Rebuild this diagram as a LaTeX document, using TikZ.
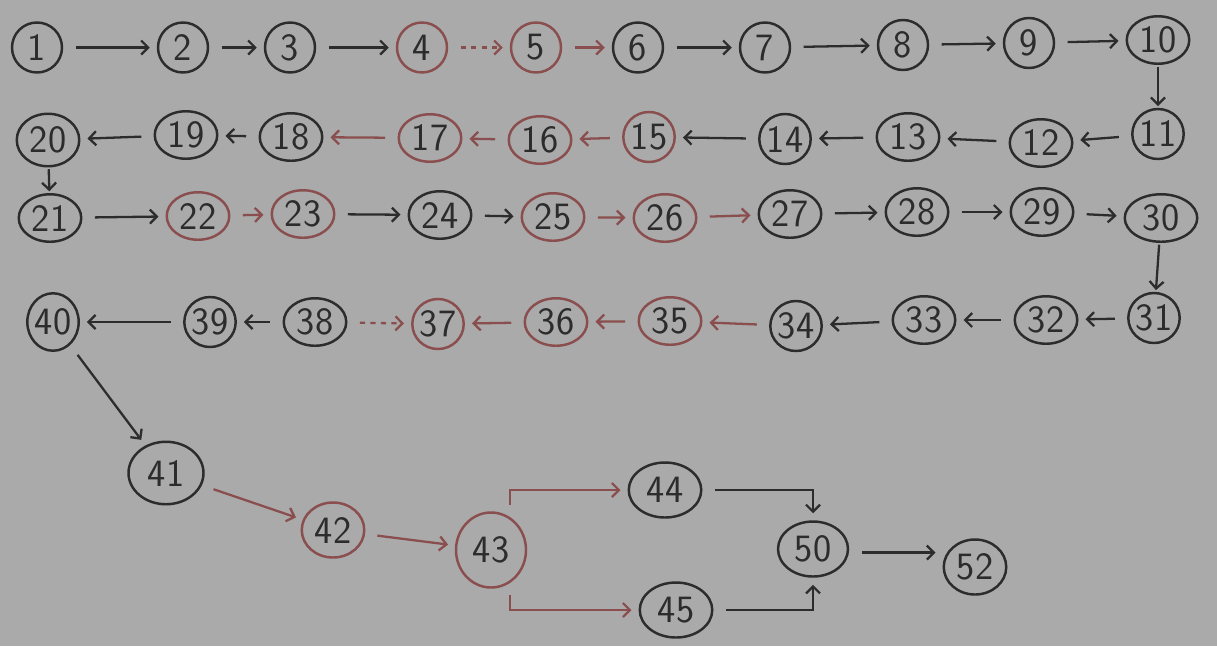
\documentclass[tikz,border=0pt]{standalone}
\usepackage{tikz}
\usetikzlibrary{shapes.geometric,arrows.meta,positioning}
\definecolor{paper}{RGB}{170,170,170}
\definecolor{ink}{RGB}{44,44,44}
\definecolor{redink}{RGB}{138,78,78}
\tikzset{
  %% Ellipse nodes
  tnode/.style={
    ellipse, draw=ink, line width=1.4pt,
    text=ink, inner sep=0pt,
    minimum width=1.25cm, minimum height=0.95cm,
    font=\sffamily\fontsize{22}{22}\selectfont},
  rnode/.style={tnode, draw=redink},
  onedig/.style={minimum width=1.0cm, minimum height=1.0cm},
  %% Arrows
  arr/.style={-{Straight Barb[length=4pt,width=8pt]}, line width=1.3pt, ink,
    shorten <=7pt, shorten >=4pt},
  varr/.style={arr, shorten <=1pt, shorten >=1pt},
  rarr/.style={arr, redink},
  darr/.style={rarr, dashed},
}
\begin{document}
\begin{tikzpicture}
  \fill[paper] (0,0) rectangle (24.34,-12.92);

  %% Row 1
  \node[tnode, onedig] (n1)  at (0.74,-0.95)  {1};
  \node[tnode, onedig] (n2)  at (3.66,-0.95)  {2};
  \node[tnode, onedig] (n3)  at (5.80,-0.95)  {3};
  \node[rnode, onedig] (n4)  at (8.44,-0.95)  {4};
  \node[rnode, onedig] (n5)  at (10.72,-0.95) {5};
  \node[tnode, onedig] (n6)  at (12.76,-0.95) {6};
  \node[tnode, onedig] (n7)  at (15.30,-0.95) {7};
  \node[tnode, onedig] (n8)  at (18.06,-0.90) {8};
  \node[tnode, onedig] (n9)  at (20.58,-0.86) {9};
  \node[tnode]         (n10) at (23.16,-0.80) {10};

  \draw[arr]  (n1) -- (n2);
  \draw[arr]  (n2) -- (n3);
  \draw[arr]  (n3) -- (n4);
  \draw[darr] (n4) -- (n5);
  \draw[rarr] (n5) -- (n6);
  \draw[arr]  (n6) -- (n7);
  \draw[arr]  (n7) -- (n8);
  \draw[arr]  (n8) -- (n9);
  \draw[arr]  (n9) -- (n10);

  %% Row 2
  \node[tnode, onedig] (n11) at (23.16,-2.68) {11};
  \node[tnode]         (n12) at (20.82,-2.86) {12};
  \node[tnode]         (n13) at (18.16,-2.74) {13};
  \node[tnode, onedig] (n14) at (15.70,-2.78) {14};
  \node[rnode, onedig] (n15) at (12.98,-2.74) {15};
  \node[rnode]         (n16) at (10.80,-2.80) {16};
  \node[rnode]         (n17) at (8.60,-2.76)  {17};
  \node[tnode]         (n18) at (5.82,-2.74)  {18};
  \node[tnode]         (n19) at (3.72,-2.70)  {19};
  \node[tnode, minimum height=1.05cm] (n20) at (0.96,-2.80) {20};

  \draw[varr] (n10) -- (n11);
  \draw[arr]  (n11) -- (n12);
  \draw[arr]  (n12) -- (n13);
  \draw[arr]  (n13) -- (n14);
  \draw[arr]  (n14) -- (n15);
  \draw[rarr] (n15) -- (n16);
  \draw[rarr] (n16) -- (n17);
  \draw[rarr] (n17) -- (n18);
  \draw[arr]  (n18) -- (n19);
  \draw[arr]  (n19) -- (n20);

  %% Row 3
  \node[tnode]         (n21) at (1.00,-4.36)  {21};
  \node[rnode]         (n22) at (3.96,-4.32)  {22};
  \node[rnode]         (n23) at (6.06,-4.28)  {23};
  \node[tnode]         (n24) at (8.80,-4.30)  {24};
  \node[rnode]         (n25) at (11.06,-4.34) {25};
  \node[rnode]         (n26) at (13.30,-4.36) {26};
  \node[tnode]         (n27) at (15.80,-4.28) {27};
  \node[tnode]         (n28) at (18.34,-4.24) {28};
  \node[tnode]         (n29) at (20.84,-4.24) {29};
  \node[tnode, minimum width=1.45cm] (n30) at (23.22,-4.36) {30};

  \draw[varr] (n20) -- (n21);
  \draw[arr]  (n21) -- (n22);
  \draw[rarr] (n22) -- (n23);
  \draw[arr]  (n23) -- (n24);
  \draw[arr]  (n24) -- (n25);
  \draw[rarr] (n25) -- (n26);
  \draw[rarr] (n26) -- (n27);
  \draw[arr]  (n27) -- (n28);
  \draw[arr]  (n28) -- (n29);
  \draw[arr]  (n29) -- (n30);

  %% Row 4
  \node[tnode, onedig] (n31) at (23.08,-6.36) {31};
  \node[tnode]         (n32) at (20.92,-6.40) {32};
  \node[tnode]         (n33) at (18.48,-6.40) {33};
  \node[tnode, onedig] (n34) at (15.92,-6.52) {34};
  \node[rnode]         (n35) at (13.40,-6.42) {35};
  \node[rnode]         (n36) at (11.12,-6.44) {36};
  \node[rnode, onedig] (n37) at (8.76,-6.48)  {37};
  \node[tnode]         (n38) at (6.30,-6.44)  {38};
  \node[tnode, onedig] (n39) at (4.20,-6.44)  {39};
  \node[tnode, onedig, minimum height=1.15cm] (n40) at (1.06,-6.44) {40};

  \draw[varr] (n30) -- (n31);
  \draw[arr]  (n31) -- (n32);
  \draw[arr]  (n32) -- (n33);
  \draw[arr]  (n33) -- (n34);
  \draw[rarr] (n34) -- (n35);
  \draw[rarr] (n35) -- (n36);
  \draw[rarr] (n36) -- (n37);
  \draw[darr] (n38) -- (n37);
  \draw[arr]  (n38) -- (n39);
  \draw[arr]  (n39) -- (n40);

  %% Lower part
  \node[tnode, minimum width=1.5cm, minimum height=1.25cm] (n41) at (3.32,-9.46)  {41};
  \node[rnode, minimum height=1.1cm]                      (n42) at (6.66,-10.60) {42};
  \node[rnode, minimum width=1.4cm, minimum height=1.5cm] (n43) at (9.82,-11.00) {43};
  \node[tnode, minimum width=1.45cm, minimum height=1.1cm] (n44) at (13.30,-9.80)  {44};
  \node[tnode, minimum width=1.45cm, minimum height=1.1cm] (n45) at (13.52,-12.20) {45};
  \node[tnode, minimum width=1.4cm, minimum height=1.1cm] (n50) at (16.26,-10.98) {50};
  \node[tnode, minimum height=1.1cm]                      (n52) at (19.50,-11.34) {52};

  \draw[arr]  (n40) -- (n41);
  \draw[rarr] (n41) -- (n42);
  \draw[rarr] (n42) -- (n43);
  \draw[rarr] (n43.60) |- (n44);
  \draw[rarr] (n43.-60) |- (n45);
  \draw[arr]  (n44) -| (n50);
  \draw[arr]  (n45) -| (n50);
  \draw[arr]  ([yshift=-2pt]n50.east) -- ([yshift=-2pt]n50.east -| n52.west);

\end{tikzpicture}
\end{document}
